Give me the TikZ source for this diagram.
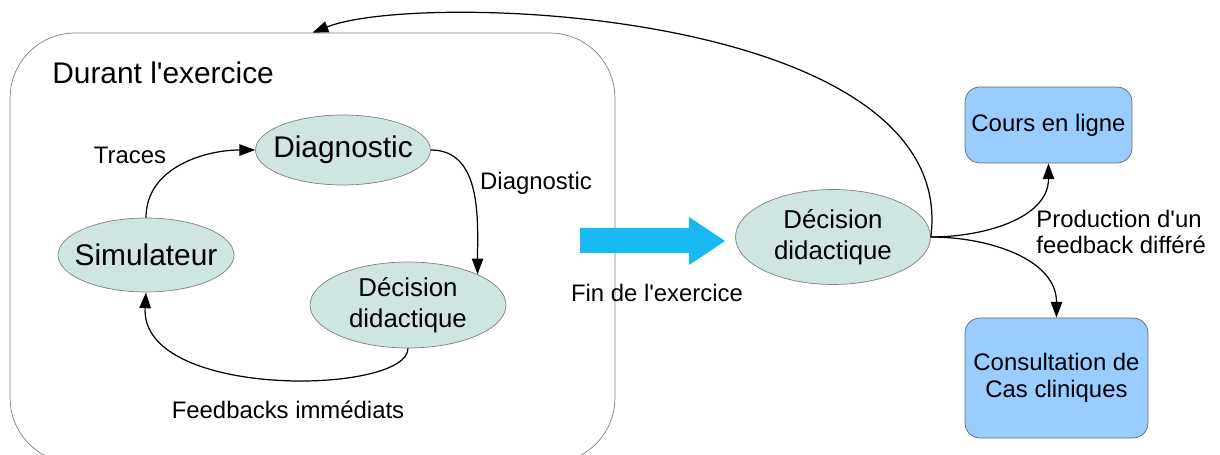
\documentclass[tikz,border=0pt]{standalone}
\usepackage{fontspec}
\setmainfont{Liberation Sans}
\usetikzlibrary{shapes.geometric,arrows.meta}

\definecolor{fondbulle}{RGB}{206,229,226}
\definecolor{fondboite}{RGB}{153,204,255}
\definecolor{bleufleche}{RGB}{24,184,240}

\tikzset{
  bulle/.style={ellipse, draw=gray, fill=fondbulle, inner sep=0pt, align=center},
  boite/.style={rectangle, rounded corners=0.3cm, draw=gray!80!black, fill=fondboite, align=center, font=\fontsize{13.6}{15.3}\selectfont},
  lien/.style={-{Triangle[length=9pt,width=6.5pt]}, line width=0.7pt},
  etiq/.style={font=\fontsize{13.6}{15.3}\selectfont, inner sep=0pt},
}

\begin{document}
\begin{tikzpicture}[x=0.02cm,y=-0.02cm]
\useasboundingbox (0,0) rectangle (1220,455);

% cadre
\node[draw=gray, rounded corners=1.3cm, minimum width=12.1cm, minimum height=8.6cm] (durant) at (312.5,248) {};
\node[anchor=west, inner sep=0pt, font=\fontsize{17}{20}\selectfont] (titre) at (52,73) {Durant l\textquotesingle exercice};

% boucle
\node[bulle, minimum width=3.5cm, minimum height=1.4cm, inner xsep=-0.35cm, font=\fontsize{17}{20}\selectfont] (diag) at (343,150) {Diagnostic};
\node[bulle, minimum width=3.52cm, minimum height=1.48cm, inner xsep=-0.35cm, font=\fontsize{17}{20}\selectfont] (simu) at (146,255) {Simulateur};
\node[bulle, minimum width=3.92cm, minimum height=1.72cm, font=\fontsize{14.7}{17.6}\selectfont] (deci) at (408,305) {Décision\\didactique};

\draw[lien] (simu.north) to[out=90,in=180] (diag.west);
\draw[lien] (diag.east) to[out=0,in=90] (deci.north east);
\draw[lien] (deci.south) .. controls (408,395) and (140,400) .. (simu.south);

\node[etiq] (traces) at (130,155) {Traces};
\node[etiq] (ldiag) at (536,183) {Diagnostic};
\node[etiq] (feed) at (288,410) {Feedbacks immédiats};

% fin de l'exercice
\fill[bleufleche] (580,228) -- (689,228) -- (689,217) -- (725,241) -- (689,265) -- (689,253) -- (580,253) -- cycle;
\node[etiq] (fin) at (657,293) {Fin de l\textquotesingle exercice};

\node[bulle, minimum width=3.9cm, minimum height=1.9cm, font=\fontsize{14.7}{17.6}\selectfont] (decf) at (833,237) {Décision\\didactique};
\node[boite, minimum width=3.34cm, minimum height=1.52cm] (cours) at (1048.5,125) {Cours en ligne};
\node[boite, minimum width=3.66cm, minimum height=2.4cm] (cas) at (1056.5,378) {Consultation de\\Cas cliniques};

\draw[lien] (decf.east) .. controls (960,10) and (420,-10) .. (durant.north);
\draw[lien] (decf.east) to[out=0,in=-90] (cours.south);
\draw[lien] (decf.east) to[out=0,in=90] (cas.north);

\node[etiq, anchor=west, align=left] (prod) at (1036,232) {Production d\textquotesingle un\\feedback différé};

\end{tikzpicture}
\end{document}
